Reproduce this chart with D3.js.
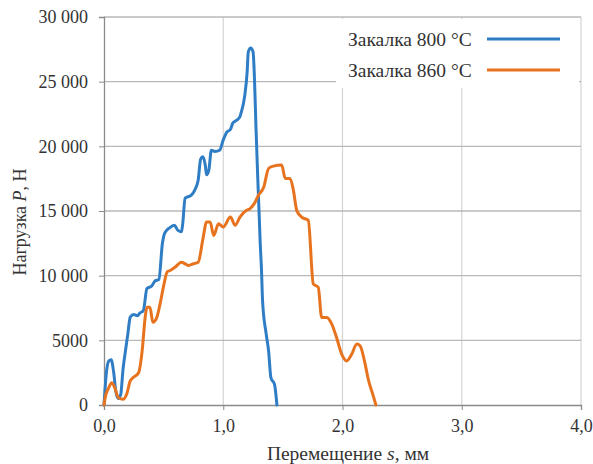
<!DOCTYPE html>
<html><head><meta charset="utf-8">
<script src="https://cdn.jsdelivr.net/npm/d3@7"></script>
<style>body{margin:0;background:#fff}svg{display:block}</style>
</head><body><svg id="c" width="593" height="464" style="font-family:'Liberation Serif',serif"></svg>
<script>
const seriesNames = ["Закалка 800 °C", "Закалка 860 °C"];
const seriesColors = ["#2f7dc5", "#e8731f"];
const xTicks = [0, 1, 2, 3, 4];
const yTicks = [0, 5000, 10000, 15000, 20000, 25000, 30000];
const xLabel = "Перемещение s, мм";
const yLabel = "Нагрузка P, Н";

const s800 = [0,0.02,0.04,0.06,0.08,0.10,0.12,0.14,0.16,0.18,0.20,0.22,0.25,0.28,0.30,0.33,0.36,0.40,0.43,0.46,0.49,0.51,0.55,0.59,0.62,0.65,0.66,0.68,0.73,0.76,0.79,0.81,0.83,0.85,0.86,0.88,0.90,0.93,0.97,1.00,1.03,1.06,1.08,1.11,1.14,1.15,1.18,1.20,1.21,1.23,1.25,1.26,1.275,1.29,1.30,1.31,1.32,1.33,1.36,1.38,1.40,1.43,1.45];
const p800 = [0,2500,3400,3500,2600,1000,500,800,2800,4200,5500,6800,7000,6900,7100,7300,9000,9200,9600,9700,12500,13300,13700,13900,13500,13400,14000,16000,16200,16600,17400,19000,19200,18500,17800,18200,19700,19600,19700,20500,21100,21300,21800,22000,22300,22600,23900,25700,27300,27600,27300,25700,21300,17400,15000,12500,10600,8000,5500,4200,2100,1600,0];

const s860 = [0,0.01,0.04,0.065,0.09,0.12,0.16,0.19,0.22,0.245,0.29,0.32,0.345,0.36,0.385,0.41,0.44,0.47,0.50,0.53,0.555,0.595,0.65,0.68,0.71,0.75,0.79,0.83,0.86,0.89,0.92,0.96,1.00,1.06,1.10,1.14,1.195,1.225,1.26,1.295,1.34,1.38,1.42,1.49,1.52,1.56,1.588,1.616,1.658,1.713,1.755,1.797,1.825,1.867,1.91,1.95,1.993,2.035,2.077,2.12,2.147,2.19,2.216,2.258,2.28];
const p860 = [0,570,1340,1730,1340,570,440,830,1860,2120,2500,4190,6770,7550,7550,6400,6700,7800,9200,10300,10400,10650,11040,10920,10790,10920,11040,12860,14150,14150,13110,14020,13760,14530,13890,14530,15050,15190,15570,16220,16860,18290,18470,18550,17510,17510,16610,15050,14530,14280,9370,9100,6770,6770,6260,5220,3930,3410,3930,4710,4580,3160,1990,700,0];

const FONT = "'Liberation Serif', 'Times New Roman', serif";
const svg = d3.select("#c");
const L = 104, R = 581, T = 17, B = 405;
const x = d3.scaleLinear().domain([0, 4]).range([L, R]);
const y = d3.scaleLinear().domain([0, 30000]).range([B, T]);
const fmtX = v => d3.format(".1f")(v).replace(".", ",");
const fmtY = v => v === 0 ? "0" : (v < 10000 ? String(v) : d3.format(",")(v).replace(/,/g, " "));

// vertical grid
svg.append("g").selectAll("line").data(xTicks.slice(1)).join("line")
  .attr("x1", d => x(d)).attr("x2", d => x(d)).attr("y1", T).attr("y2", B)
  .attr("stroke", "#d4d4d4").attr("stroke-width", 1.2);
// horizontal grid
svg.append("g").selectAll("line").data(yTicks.slice(1)).join("line")
  .attr("x1", L).attr("x2", R).attr("y1", d => y(d)).attr("y2", d => y(d))
  .attr("stroke", "#b9b9b9").attr("stroke-width", 1.3);

// axes
const yAxis = svg.append("g").attr("transform", `translate(${L},0)`)
  .call(d3.axisLeft(y).tickValues(yTicks).tickFormat(fmtY).tickSize(5).tickPadding(11));
yAxis.attr("font-family", null).attr("font-size", null);
yAxis.select(".domain").attr("stroke", "#8a8a8a").attr("stroke-width", 1.3);
yAxis.selectAll(".tick line").attr("stroke", "#8a8a8a");
yAxis.selectAll("text").style("font-family", FONT).style("font-size", "18px").attr("fill", "#333");

const xAxis = svg.append("g").attr("transform", `translate(0,${B})`)
  .call(d3.axisBottom(x).tickValues(xTicks).tickFormat(fmtX).tickSize(5).tickPadding(9));
xAxis.attr("font-family", null).attr("font-size", null);
xAxis.select(".domain").attr("stroke", "#8a8a8a").attr("stroke-width", 1.3);
xAxis.selectAll(".tick line").attr("stroke", "#8a8a8a");
xAxis.selectAll("text").style("font-family", FONT).style("font-size", "18px").attr("fill", "#333");

// lines
const line = d3.line().x(d => x(d[0])).y(d => y(d[1])).curve(d3.curveMonotoneX);
const data = [d3.zip(s800, p800), d3.zip(s860, p860)];
svg.append("g").selectAll("path").data(data).join("path")
  .attr("d", line).attr("fill", "none")
  .attr("stroke", (d, i) => seriesColors[i]).attr("stroke-width", 3)
  .attr("stroke-linejoin", "round").attr("stroke-linecap", "round");

// legend
const lg = svg.append("g");
lg.append("rect").attr("x", 336).attr("y", 19).attr("width", 243).attr("height", 69).attr("fill", "#fff");
seriesNames.forEach((n, i) => {
  const yy = 40 + i * 31;
  lg.append("text").attr("x", 348).attr("y", yy + 6).style("font-family", FONT).style("font-size", "19.5px").attr("fill", "#333").text(n);
  lg.append("line").attr("x1", 487).attr("x2", 560).attr("y1", yy - 1).attr("y2", yy - 1)
    .attr("stroke", seriesColors[i]).attr("stroke-width", 3);
});

// axis titles
const xt = svg.append("text").attr("x", 348).attr("y", 460).attr("text-anchor", "middle")
  .style("font-family", FONT).style("font-size", "19.5px").attr("fill", "#333");
xt.append("tspan").text("Перемещение ");
xt.append("tspan").attr("font-style", "italic").text("s");
xt.append("tspan").text(", мм");
const yt = svg.append("text").attr("transform", "translate(26,222) rotate(-90)").attr("text-anchor", "middle")
  .style("font-family", FONT).style("font-size", "18px").attr("fill", "#333");
yt.append("tspan").text("Нагрузка ");
yt.append("tspan").attr("font-style", "italic").text("P");
yt.append("tspan").text(", Н");
</script></body></html>
